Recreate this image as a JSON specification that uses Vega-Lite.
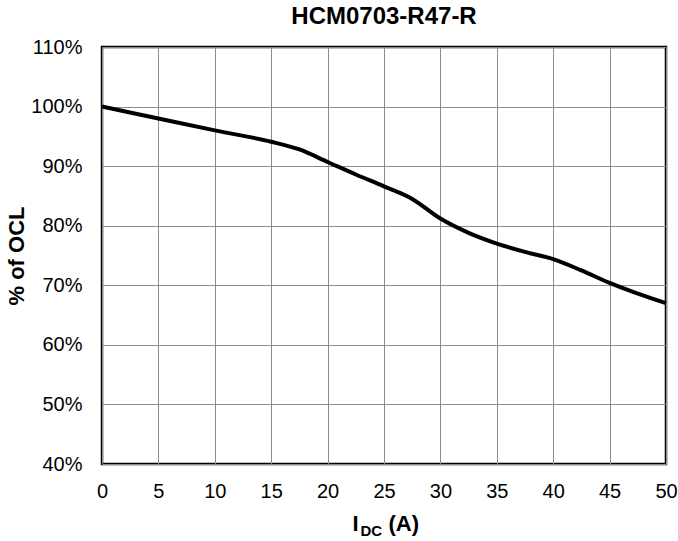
{
  "$schema": "https://vega.github.io/schema/vega-lite/v6.json",
  "autosize": "none",
  "padding": {"left": 102, "top": 47, "right": 12, "bottom": 77},
  "width": 564,
  "height": 417,
  "background": "white",
  "view": {"stroke": "black", "strokeWidth": 2.5},
  "title": {
    "text": "HCM0703-R47-R",
    "font": "Liberation Sans",
    "fontSize": 24,
    "fontWeight": "bold",
    "color": "black",
    "offset": 8
  },
  "data": {
    "values": [
      {"idc": 0, "pct": 100.0},
      {"idc": 5, "pct": 98.0},
      {"idc": 10, "pct": 96.0},
      {"idc": 15, "pct": 94.1},
      {"idc": 17.5, "pct": 92.8},
      {"idc": 20, "pct": 90.7},
      {"idc": 22.5, "pct": 88.6},
      {"idc": 25, "pct": 86.6},
      {"idc": 27.5, "pct": 84.5},
      {"idc": 30, "pct": 81.2},
      {"idc": 32.5, "pct": 78.8},
      {"idc": 35, "pct": 77.0},
      {"idc": 37.5, "pct": 75.6},
      {"idc": 40, "pct": 74.4},
      {"idc": 42.5, "pct": 72.5},
      {"idc": 45, "pct": 70.4},
      {"idc": 47.5, "pct": 68.6},
      {"idc": 50, "pct": 67.0}
    ]
  },
  "encoding": {
    "y": {
      "field": "pct",
      "type": "quantitative",
      "title": "% of OCL",
      "scale": {"domain": [40, 110], "nice": false, "zero": false},
      "axis": {
        "values": [40, 50, 60, 70, 80, 90, 100, 110],
        "labelExpr": "datum.value + '%'",
        "ticks": false,
        "domain": false,
        "grid": true,
        "gridColor": "#8c8c8c",
        "gridWidth": 1,
        "gridOpacity": 1,
        "labelFont": "Liberation Sans",
        "labelFontSize": 20,
        "labelColor": "black",
        "labelPadding": 20,
        "labelFlush": false,
        "titleFont": "Liberation Sans",
        "titleFontSize": 22,
        "titleFontWeight": "bold",
        "titleColor": "black",
        "titlePadding": 2
      }
    }
  },
  "layer": [
    {
      "mark": {"type": "line", "color": "black", "strokeWidth": 4, "interpolate": "monotone"},
      "encoding": {
        "x": {
          "field": "idc",
          "type": "quantitative",
          "title": "I",
          "scale": {"domain": [0, 50], "nice": false},
          "axis": {
            "orient": "bottom",
            "values": [0, 5, 10, 15, 20, 25, 30, 35, 40, 45, 50],
            "ticks": false,
            "domain": false,
            "grid": true,
            "gridColor": "#8c8c8c",
            "gridWidth": 1,
            "gridOpacity": 1,
            "labelFont": "Liberation Sans",
            "labelFontSize": 20,
            "labelColor": "black",
            "labelPadding": 17,
            "labelFlush": false,
            "titleFont": "Liberation Sans",
            "titleFontSize": 22,
            "titleFontWeight": "bold",
            "titleColor": "black",
            "titleAlign": "left",
            "titleBaseline": "alphabetic",
            "titleX": 250,
            "titleY": 66
          }
        }
      }
    },
    {
      "mark": {"type": "line", "opacity": 0},
      "encoding": {
        "x": {
          "field": "idc",
          "type": "quantitative",
          "title": "DC",
          "scale": {"domain": [0, 50], "nice": false},
          "axis": {
            "orient": "bottom",
            "labels": false,
            "ticks": false,
            "domain": false,
            "grid": false,
            "titleFont": "Liberation Sans",
            "titleFontSize": 15,
            "titleFontWeight": "bold",
            "titleColor": "black",
            "titleAlign": "left",
            "titleBaseline": "alphabetic",
            "titleX": 258,
            "titleY": 71
          }
        }
      }
    },
    {
      "mark": {"type": "line", "opacity": 0},
      "encoding": {
        "x": {
          "field": "idc",
          "type": "quantitative",
          "title": "(A)",
          "scale": {"domain": [0, 50], "nice": false},
          "axis": {
            "orient": "bottom",
            "labels": false,
            "ticks": false,
            "domain": false,
            "grid": false,
            "titleFont": "Liberation Sans",
            "titleFontSize": 22,
            "titleFontWeight": "bold",
            "titleColor": "black",
            "titleAlign": "left",
            "titleBaseline": "alphabetic",
            "titleX": 286,
            "titleY": 66
          }
        }
      }
    }
  ],
  "resolve": {"scale": {"x": "independent"}, "axis": {"x": "independent"}}
}
